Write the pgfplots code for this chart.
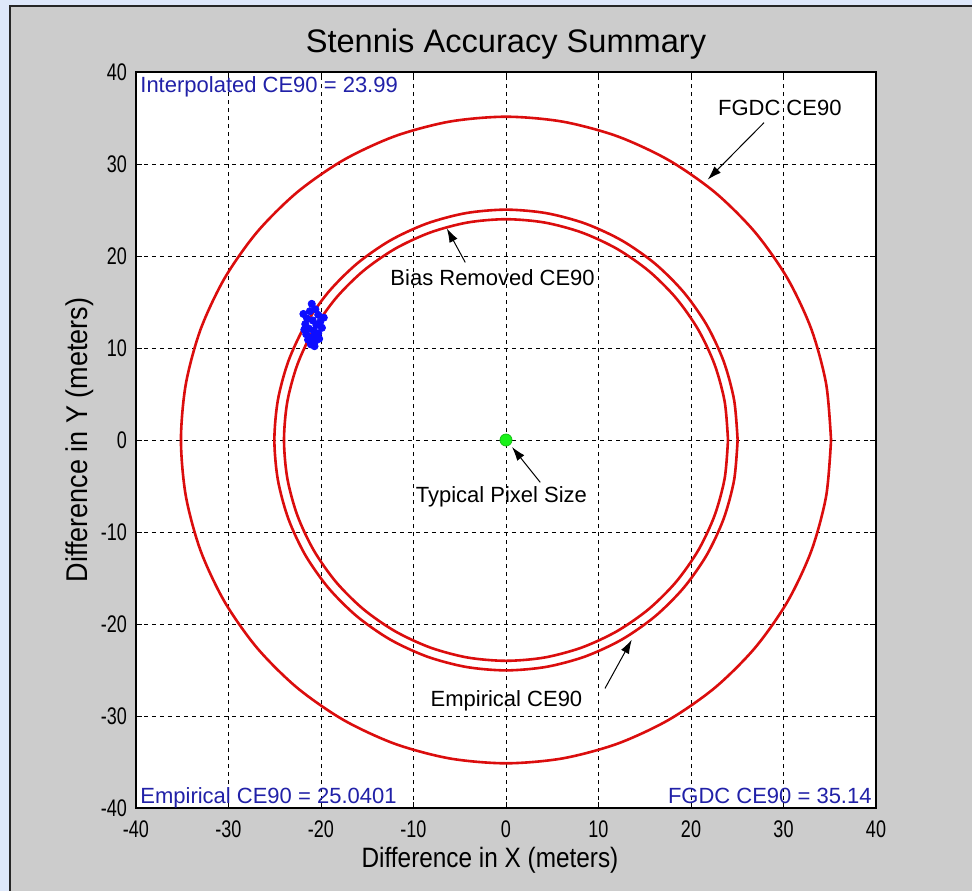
\documentclass[border=0pt]{standalone}
\usepackage{fontspec}
\setmainfont{Liberation Sans}
\newfontfamily\ticksfont{Liberation Sans}[FakeStretch=0.75]
\newfontfamily\labfont{Liberation Sans}[FakeStretch=0.87]
\newfontfamily\ylabfont{Liberation Sans}[FakeStretch=0.9]
\usepackage{pgfplots}
\pgfplotsset{compat=1.18}
\usetikzlibrary{arrows.meta}
\definecolor{winblue}{rgb}{0.87,0.91,0.98}
\definecolor{figgray}{rgb}{0.8,0.8,0.8}
\definecolor{cered}{rgb}{0.86,0.05,0.05}
\definecolor{txtblue}{rgb}{0.13,0.13,0.66}
\definecolor{ptblue}{rgb}{0.05,0.05,1}
\definecolor{ptgreen}{rgb}{0.1,0.95,0.1}
\begin{document}
\begin{tikzpicture}
\path[use as bounding box] (-68pt,-41.5pt) rectangle (418pt,404pt);
\fill[winblue] (-68pt,-41.5pt) rectangle (418pt,404pt);
\fill[figgray] (-63pt,-41.5pt) rectangle (418pt,401pt);
\draw[black!85, line width=1pt] (-63pt,-41.5pt) -- (-63pt,401pt) -- (418pt,401pt);
\begin{axis}[
  at={(0pt,0pt)}, anchor=south west,
  scale only axis, width=370pt, height=368pt,
  xmin=-40, xmax=40, ymin=-40, ymax=40,
  xtick={-40,-30,...,40}, ytick={-40,-30,...,40},
  axis background/.style={fill=white},
  axis line style={black, line width=0.6pt},
  tick align=inside, tick pos=both, major tick length=3pt,
  tick style={black, line width=0.5pt},
  grid=major,
  major grid style={black, line width=0.5pt, dash pattern=on 2pt off 2pt},
  /pgf/number format/assume math mode=true,
  tick label style={font=\ticksfont\fontsize{12}{14}\selectfont, black},
  xticklabel style={anchor=center, yshift=-10.5pt},
  yticklabel style={anchor=east, xshift=-1pt},
  title={Stennis Accuracy Summary},
  title style={at={(axis description cs:0.5,1.0408)}, anchor=center, yshift=-7pt, font=\fontsize{16.3}{19}\selectfont},
  xlabel={Difference in X (meters)},
  ylabel={Difference in Y (meters)},
  xlabel style={at={(axis description cs:0.4784,-0.0707)}, anchor=center, font=\labfont\fontsize{14}{16}\selectfont},
  ylabel style={at={(axis description cs:-0.0757,0.5)}, anchor=center, font=\ylabfont\fontsize{15}{17}\selectfont},
]
% FGDC CE90 circle, r = 35.14
\addplot[cered, line width=1.3pt, smooth] coordinates {
(35.14,0) (34.61,6.10) (33.02,12.02) (30.43,17.57) (26.92,22.59) (22.59,26.92) (17.57,30.43) (12.02,33.02) (6.10,34.61) (0,35.14) (-6.10,34.61) (-12.02,33.02) (-17.57,30.43) (-22.59,26.92) (-26.92,22.59) (-30.43,17.57) (-33.02,12.02) (-34.61,6.10) (-35.14,0) (-34.61,-6.10) (-33.02,-12.02) (-30.43,-17.57) (-26.92,-22.59) (-22.59,-26.92) (-17.57,-30.43) (-12.02,-33.02) (-6.10,-34.61) (0,-35.14) (6.10,-34.61) (12.02,-33.02) (17.57,-30.43) (22.59,-26.92) (26.92,-22.59) (30.43,-17.57) (33.02,-12.02) (34.61,-6.10) (35.14,0)
};
% Empirical CE90 circle, r = 25.04
\addplot[cered, line width=1.3pt, smooth] coordinates {
(25.04,0) (24.66,4.35) (23.53,8.56) (21.69,12.52) (19.18,16.10) (16.10,19.18) (12.52,21.69) (8.56,23.53) (4.35,24.66) (0,25.04) (-4.35,24.66) (-8.56,23.53) (-12.52,21.69) (-16.10,19.18) (-19.18,16.10) (-21.69,12.52) (-23.53,8.56) (-24.66,4.35) (-25.04,0) (-24.66,-4.35) (-23.53,-8.56) (-21.69,-12.52) (-19.18,-16.10) (-16.10,-19.18) (-12.52,-21.69) (-8.56,-23.53) (-4.35,-24.66) (0,-25.04) (4.35,-24.66) (8.56,-23.53) (12.52,-21.69) (16.10,-19.18) (19.18,-16.10) (21.69,-12.52) (23.53,-8.56) (24.66,-4.35) (25.04,0)
};
% Bias removed CE90 circle, r = 24.0
\addplot[cered, line width=1.3pt, smooth] coordinates {
(24,0) (23.64,4.17) (22.55,8.21) (20.78,12) (18.38,15.43) (15.43,18.38) (12,20.78) (8.21,22.55) (4.17,23.64) (0,24) (-4.17,23.64) (-8.21,22.55) (-12,20.78) (-15.43,18.38) (-18.38,15.43) (-20.78,12) (-22.55,8.21) (-23.64,4.17) (-24,0) (-23.64,-4.17) (-22.55,-8.21) (-20.78,-12) (-18.38,-15.43) (-15.43,-18.38) (-12,-20.78) (-8.21,-22.55) (-4.17,-23.64) (0,-24) (4.17,-23.64) (8.21,-22.55) (12,-20.78) (15.43,-18.38) (18.38,-15.43) (20.78,-12) (22.55,-8.21) (23.64,-4.17) (24,0)
};
% measured points
\addplot[only marks, mark=*, mark size=1.8pt, ptblue, mark options={draw=ptblue, fill=ptblue}] coordinates {
(-21.0,14.8) (-20.6,14.2) (-21.2,14.0) (-21.9,13.7) (-20.3,13.6) (-19.7,13.3) (-21.5,13.2) (-20.9,13.0) (-20.1,12.8) (-21.7,12.6) (-20.5,12.5) (-19.9,12.2) (-21.3,12.1) (-20.8,11.9) (-21.6,11.5) (-20.3,11.6) (-20.9,11.2) (-21.4,10.9) (-20.6,10.8) (-21.1,10.4) (-20.7,10.2) (-20.2,11.0) (-21.8,12.0)
};
% typical pixel size
\addplot[only marks, mark=*, mark size=3pt, mark options={draw=ptgreen!80!black, fill=ptgreen}] coordinates {(0,0)};
% annotations
\node[font=\fontsize{11}{13}\selectfont, txtblue, anchor=north west, inner sep=1pt] at (rel axis cs:0,1) [xshift=1pt, yshift=-1pt] {Interpolated CE90 = 23.99};
\node[font=\fontsize{11}{13}\selectfont, txtblue, anchor=base west, inner sep=1pt] at (rel axis cs:0,0) [xshift=1pt, yshift=2.5pt] {Empirical CE90 = 25.0401};
\node[font=\fontsize{11}{13}\selectfont, txtblue, anchor=base east, inner sep=1pt] at (rel axis cs:1,0) [xshift=-1pt, yshift=2.5pt] {FGDC CE90 = 35.14};
\node[font=\fontsize{11}{13}\selectfont, inner sep=0pt] at (axis cs:29.6,36.1) {FGDC CE90};
\draw[-{Latex[length=7pt,width=4.5pt]}, line width=0.5pt] (axis cs:27.9,34.5) -- (axis cs:21.8,28.3);
\node[font=\fontsize{11}{13}\selectfont, inner sep=0pt] at (axis cs:-1.45,17.6) {Bias Removed CE90};
\draw[-{Latex[length=7pt,width=4.5pt]}, line width=0.5pt] (axis cs:-4.4,19.3) -- (axis cs:-6.4,23.0);
\node[font=\fontsize{11}{13}\selectfont, inner sep=0pt] at (axis cs:-0.5,-6.2) {Typical Pixel Size};
\draw[-{Latex[length=7pt,width=4.5pt]}, line width=0.5pt] (axis cs:3.7,-4.6) -- (axis cs:0.65,-0.76);
\node[font=\fontsize{11}{13}\selectfont, inner sep=0pt] at (axis cs:0.05,-28.3) {Empirical CE90};
\draw[-{Latex[length=7pt,width=4.5pt]}, line width=0.5pt] (axis cs:10.7,-27.0) -- (axis cs:13.6,-21.7);
\end{axis}
\end{tikzpicture}
\end{document}
